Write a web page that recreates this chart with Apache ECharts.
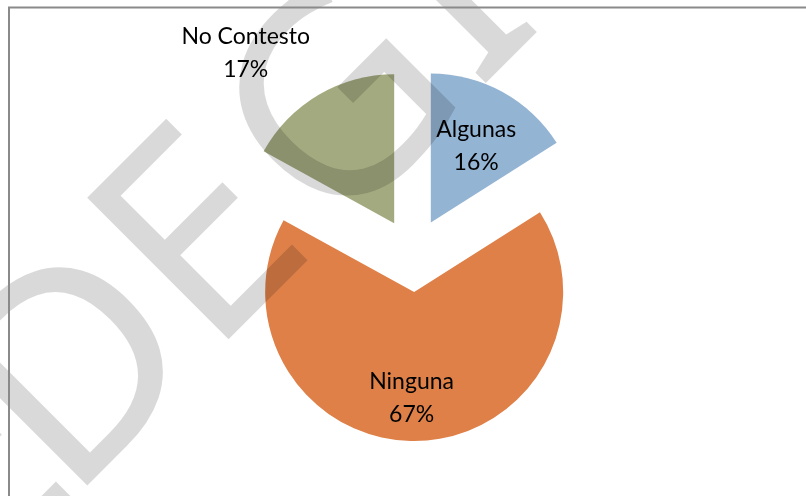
<!DOCTYPE html>
<html>
<head>
<meta charset="utf-8">
<style>
  html, body { margin: 0; padding: 0; background: #fff; }
  #chart { width: 806px; height: 496px; }
</style>
<script src="https://cdn.jsdelivr.net/npm/echarts@6/dist/echarts.min.js"></script>
</head>
<body>
<div id="chart"></div>
<script>
// data
var categories = ['Algunas', 'Ninguna', 'No Contesto']
var values = [16, 67, 17]
var colors = ['#94b4d4', '#de8048', '#a4aa80']

// label nudges (dx, dy) from the default inside spot
var labelShift = [[8, -9], [-5, 29], [-109, -103]]

// watermark letters, centres along the diagonal
var wmLetters = ['E', 'D', 'E', 'G', 'I']
var wmPos = [[-28, 484], [84, 376], [208, 247], [347, 114], [455, 1]]

var chart = echarts.init(document.getElementById('chart'))

var graphics = [
  {
    type: 'rect',
    z: 200,
    shape: { x: 9, y: 7.5, width: 900, height: 600 },
    style: { fill: 'none', stroke: '#8a8a8a', lineWidth: 2 },
  },
]
wmLetters.forEach(function (ch, i) {
  graphics.push({
    type: 'text',
    z: 100,
    x: wmPos[i][0],
    y: wmPos[i][1],
    rotation: Math.PI / 4,
    style: {
      text: ch,
      font: '280px "Noto Sans"',
      fill: 'rgba(0,0,0,0.15)',
      align: 'center',
      verticalAlign: 'middle',
    },
  })
})

chart.setOption({
  animation: false,
  graphic: graphics,
  series: [
    {
      type: 'pie',
      center: [413, 255],
      radius: 149,
      startAngle: 90,
      clockwise: true,
      selectedMode: 'multiple',
      selectedOffset: 37,
      label: {
        show: true,
        position: 'inside',
        formatter: '{b}\n{c}%',
        color: '#000',
        fontFamily: 'Lato',
        fontSize: 23,
        lineHeight: 33,
      },
      labelLine: { show: false },
      labelLayout: function (params) {
        var s = labelShift[params.dataIndex]
        return { dx: s[0], dy: s[1] }
      },
      data: categories.map(function (name, i) {
        return {
          name: name,
          value: values[i],
          selected: true,
          itemStyle: { color: colors[i] },
        }
      }),
    },
  ],
})
</script>
</body>
</html>
